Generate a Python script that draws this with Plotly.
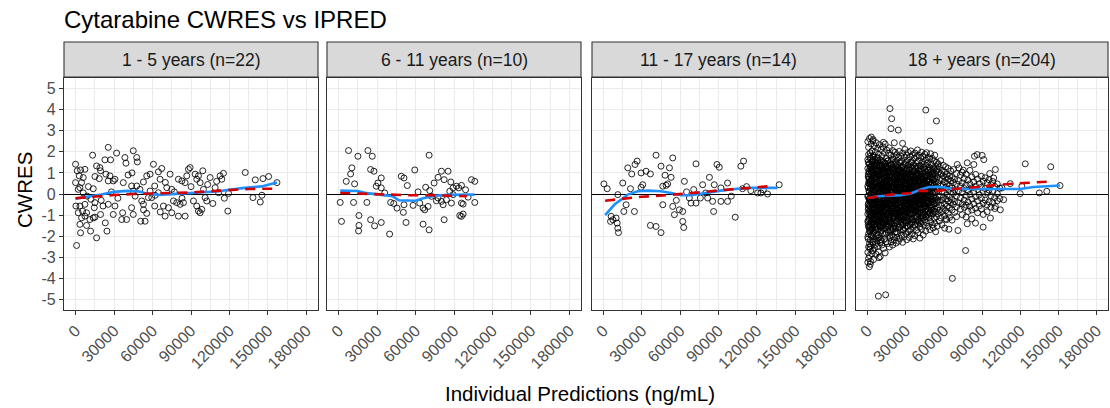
import plotly.graph_objects as go

# ---------------- data ----------------
PANEL_TITLES = ["1 - 5 years (n=22)", "6 - 11 years (n=10)", "11 - 17 years (n=14)", "18 + years (n=204)"]
X_TICKS = [0, 30000, 60000, 90000, 120000, 150000, 180000]
Y_TICKS = [-5, -4, -3, -2, -1, 0, 1, 2, 3, 4, 5]

# 1 - 5 years
p1_ipred = [0, 1300, 3900, 7300, 2900, 6000, 0, 4700, 3400, 2100, 13300, 15100, 18500, 16400, 19000, 19500,
            13800, 22900, 27300, 25500, 32000, 23700, 26800, 25500, 29400, 30700, 38500, 39300, 45000, 47700,
            48200, 300, 3400, 7300, 2100, 5500, 8600, 4700, 7300, 11200, 3400, 8600, 13800, 15100, 3900, 800,
            16400, 11700, 15100, 14600, 19500, 23200, 24500, 21400, 25500, 30700, 29400, 36700, 39800, 36000,
            43700, 45000, 50800, 54200, 45000, 50200, 46400, 51600, 52900, 55500, 52900, 55500, 58100, 60700,
            64600, 65900, 67200, 73700, 71100, 75000, 61700, 68500, 69800, 72400, 76300, 78900, 81500, 84100,
            75000, 80200, 85400, 80200, 82900, 85400, 88000, 89300, 86700, 93200, 94500, 95800, 99200, 97100,
            91900, 94500, 95800, 97100, 98400, 101000, 102300, 99700, 104900, 112700, 114000, 115300, 108800,
            111500, 119300, 118700, 132300, 140100, 146100, 150500, 138300, 144000, 145300, 157000, 61700,
            58100, 64600, 43700, 47700, 37200, 56800, 59400, 62000, 10000, 12000, 20000, 28000, 33000, 41000,
            44000, 53000, 66000, 70000, 77000, 83000, 90000, 103000, 107000, 110000, 116000, 9000, 6000]
p1_cwres = [1.41, 1.10, 1.14, 1.17, 0.86, 0.78, 0.54, 0.54, 0.30, 0.22, 1.84, 0.83, 0.73, 1.33, 1.25, 1.10,
            0.25, 1.62, 1.62, 2.21, 1.94, 0.94, 0.86, 0.62, 0.62, 0.70, 1.73, 1.46, 2.05, 1.73,
            1.52, -0.57, -0.57, -0.49, -0.89, -0.81, -0.89, -1.13, -1.05, -1.21, -1.44, -1.49, -1.13, -1.10,
            -1.84, -2.44, -2.08, -1.76, -0.41, -0.65, -0.97, -1.37, -1.76, -0.57, -0.49, -0.57, -0.97, -0.89,
            -1.21, -1.21, -0.65, -0.97, -1.29, -1.29, 0.14, 0.22, -0.10, -0.33, -0.49, -0.92, 0.57, 0.86, 0.94,
            1.41, 1.05, 0.70, 1.21, 0.94, 0.30, 0.22, -0.57, -0.57, -1.05, -0.65, -0.33, -0.41, -0.49, -0.41,
            -0.89, -1.05, -1.05, 0.70, 0.62, 0.54, 1.17, 1.25, 0.86, 0.94, 0.70, 0.86, 1.10, 0.54,
            -0.33, -0.57, -0.81, -0.89, -0.73, -0.17, -0.33, 0.22, 0.78, 0.86, 0.70, 0.98, 0.30,
            0.06, 0.03, -0.81, 1.02, 0.67, 0.73, 0.83, -0.17, -0.38, -0.06, 0.54, 0.38,
            0.14, 0.06, 0.38, 0.38, 0.54, -0.17, -0.17, -0.06, 0.35, -0.25, -0.30, 0.10, -0.20, 0.90,
            1.00, -0.75, -0.85, 0.55, 0.10, -0.20, 0.35, 0.45, -0.45, 0.60, -0.20, -0.10, 0.05]
p1_loess_x = [0, 8000, 20000, 30000, 40000, 50000, 55000, 65000, 80000, 95000, 110000, 120000, 130000, 145000, 157000]
p1_loess_y = [-0.22, -0.15, -0.02, 0.10, 0.15, 0.12, 0.02, -0.04, 0.02, 0.07, 0.12, 0.20, 0.28, 0.36, 0.55]
p1_median_x = [0, 15000, 30000, 45000, 60000, 75000, 90000, 105000, 120000, 135000, 150000, 157000]
p1_median_y = [-0.20, -0.12, -0.05, 0.00, 0.02, 0.05, 0.07, 0.13, 0.20, 0.24, 0.25, 0.25]

# 6 - 11 years
p2_ipred = [7800, 15100, 22900, 26300, 10400, 9400, 6000, 12500, 25000, 27600, 33300, 30700, 29400, 33300,
            1300, 11700, 22100, 2300, 15900, 15900, 15600, 25000, 28100, 33300, 39800, 40600, 45600, 50500,
            52600, 48900, 51000, 53600, 59400, 70600, 51000, 58100, 63300, 65900, 67200, 69800, 65900, 70600,
            67900, 71100, 74500, 77600, 80200, 82300, 85400, 77600, 80200, 81500, 84100, 82300, 87500, 89300,
            91900, 93700, 95800, 86700, 89300, 88000, 95800, 97100, 94500, 97100, 95800, 103600, 106200,
            106200, 76300, 72400, 36000, 43000, 62000, 99000, 101000]
p2_cwres = [2.06, 1.79, 2.06, 1.79, 1.24, 0.95, 0.60, 0.48, 1.16, 1.08, 0.76, 0.52, 0.37, 0.29,
            -0.40, -0.40, -0.40, -1.30, -1.02, -1.49, -1.75, -1.22, -1.51, -1.35, -1.90, -0.40, -0.67, -0.87,
            -1.35, 0.84, 0.76, 0.40, 1.14, 1.84, -0.51, -0.54, -0.43, -0.67, -0.75, -0.59, -1.43, -1.70,
            0.32, 0.16, 0.52, 0.79, 1.08, 0.68, 1.08, -0.19, -0.35, -0.51, -0.27, -1.22, 0.57, 0.29,
            0.37, 0.29, 0.41, 0.13, -0.03, -0.43, -0.43, -0.48, -1.02, -0.95, -1.06, 0.68, 0.60,
            -0.40, -0.32, -0.11, 0.05, -0.45, 0.10, 0.20, -0.15]
p2_loess_x = [1300, 15000, 22000, 33000, 42000, 47000, 60000, 66000, 75000, 85000, 106000]
p2_loess_y = [0.16, 0.14, 0.04, -0.05, -0.10, -0.30, -0.32, -0.20, -0.08, -0.04, -0.03]
p2_median_x = [1300, 15000, 30000, 40000, 55000, 70000, 85000, 100000]
p2_median_y = [0.05, 0.02, -0.01, -0.04, -0.06, -0.06, -0.09, -0.10]

# 11 - 17 years
p3_ipred = [300, 2900, 11200, 15100, 21100, 19000, 22100, 24700, 26300, 29400, 33300, 36700, 30700, 29400,
            41100, 45000, 51600, 54200, 48200, 52900, 46400, 49000, 50200, 46400, 17700, 15900, 24200, 6000,
            9900, 5500, 10700, 11200, 11700, 7300, 36700, 41100, 45000, 54200, 55500, 59400, 62000, 62000,
            62800, 63300, 67200, 68500, 72400, 70600, 72400, 75800, 77600, 82900, 86700, 88800, 90600, 81500,
            85400, 91900, 97100, 86200, 97100, 91900, 103100, 107500, 109600, 108800, 115300, 120600, 123200,
            128400, 137500, 57000, 65000, 80000, 100000, 112000, 125000]
p3_cwres = [0.48, 0.25, -0.03, 0.52, 0.25, 1.24, 0.95, 1.40, 1.56, 1.00, 1.08, 0.95, 0.44, 0.32,
            1.84, 1.32, 1.24, 1.71, 0.89, 0.79, 0.37, 0.41, 0.48, -0.51, -0.51, -0.83, -0.83, -1.06,
            -1.14, -1.30, -1.38, -1.62, -1.83, -1.22, -1.49, -1.54, -1.83, -0.59, -0.98, -0.75, -0.83, -1.30,
            -1.59, 0.60, -0.19, -0.43, 1.43, 0.21, -0.43, -0.19, 0.44, 0.79, 0.44, 1.40, 1.27, -0.19,
            -0.35, -0.35, -0.35, -0.83, 0.52, 0.29, -1.10, 1.32, 1.56, 0.25, 0.16, 0.05, 0.05,
            0.00, 0.44, -0.30, 0.10, 0.05, -0.10, 0.35, 0.20]
p3_loess_x = [1300, 8600, 19000, 26800, 34600, 45000, 52900, 60700, 68500, 78900, 91900, 104900, 115300, 136200]
p3_loess_y = [-1.00, -0.50, -0.03, 0.13, 0.16, 0.13, 0.05, -0.06, -0.06, 0.05, 0.16, 0.25, 0.29, 0.29]
p3_median_x = [1300, 10000, 20000, 30000, 40000, 50000, 60000, 70000, 80000, 90000, 105000, 118000, 130000]
p3_median_y = [-0.32, -0.26, -0.19, -0.13, -0.10, -0.05, -0.03, 0.05, 0.10, 0.17, 0.25, 0.30, 0.37]

# 18 + years : outer cloud, one column of CWRES values per IPRED position
p4_cloud_ipred = [300, 900, 1600, 2200, 2900, 3500, 4200, 4800, 5500, 6100, 6800, 7400, 8100, 8700, 9400,
                  10000, 10700, 11300, 12000, 12600, 13300, 13900, 14600, 15200, 15900, 16500, 17200, 17800,
                  18500, 19100, 19800, 20400, 21100, 21700, 22400, 23000, 23700, 24300, 25000, 25600, 26300,
                  26900, 27600, 28200, 28900, 29500, 30200, 30800, 31500, 32100, 32800, 33400, 34100, 34700,
                  35400, 36000, 36700, 37300, 38000, 38600, 39300, 39900, 40600, 41200, 41900, 42500, 43200,
                  43800, 44500, 45100, 45800, 46400, 47100, 47700, 48400, 49000, 49700, 50300, 51000, 51600,
                  52300, 52900, 53600, 54200, 54900, 55500, 56500, 57500, 58500, 59500, 60500, 61500, 62500,
                  63500, 64500, 65500, 66500, 67500, 68500, 70000, 71500, 73000, 74500, 76000, 77500, 79000,
                  80500, 82000, 83500, 85000, 86500, 88000, 89500, 91000, 92500, 94000, 95500, 97000, 98500,
                  100000, 102000, 104000]
p4_cloud_cwres = [
    [2.48, 1.63, 1.21, 0.37, -0.12, -0.95, -1.31, -2.04, -2.77, -3.24],
    [2.21, 1.87, 0.82, 0.55, -0.43, -0.68, -1.57, -1.89, -2.51, -3.05],
    [2.63, 1.44, 0.98, 0.11, -0.27, -1.12, -1.73, -2.36, -2.92],
    [1.95, 1.69, 0.64, 0.26, -0.58, -0.84, -1.45, -2.18, -2.61, -3.33],
    [2.37, 1.28, 1.06, -0.04, -0.39, -1.03, -1.96, -2.45],
    [2.04, 1.53, 0.71, 0.42, -0.71, -1.22, -1.64, -2.83],
    [2.52, 1.77, 0.33, -0.16, -0.89, -1.38, -2.27, -2.68],
    [1.83, 1.14, 0.89, 0.07, -0.52, -1.48, -1.81, -3.11],
    [2.29, 1.41, 0.58, -0.31, -0.77, -1.09, -2.12, -2.56],
    [1.99, 1.62, 0.94, 0.19, -0.46, -1.27, -1.69, -2.39],
    [2.43, 1.09, 0.47, -0.08, -0.63, -1.54, -2.01, -2.86],
    [1.71, 1.35, 0.76, 0.28, -0.97, -1.19, -2.22],
    [2.16, 1.58, 0.39, -0.22, -0.81, -1.66, -2.49],
    [1.88, 0.93, 0.62, -0.37, -1.07, -1.42, -1.93, -2.74],
    [2.34, 1.47, 1.11, 0.14, -0.55, -1.28, -2.08],
    [1.61, 1.26, 0.51, -0.12, -0.71, -1.58, -2.31, -2.97],
    [2.11, 0.86, 0.31, -0.44, -0.92, -1.76, -2.17],
    [1.79, 1.38, 0.69, 0.03, -0.64, -1.13, -2.42],
    [2.24, 1.17, 0.45, -0.26, -1.01, -1.49, -1.87],
    [1.52, 0.98, 0.22, -0.49, -0.83, -1.37, -2.58],
    [1.96, 1.31, 0.74, -0.06, -0.72, -1.61, -2.13],
    [2.37, 1.07, 0.36, -0.33, -1.18, -1.91, -2.79],
    [1.68, 1.44, 0.57, 0.09, -0.61, -1.33, -2.26],
    [2.08, 0.84, 0.18, -0.42, -0.96, -1.69],
    [1.57, 1.21, 0.66, -0.19, -0.74, -1.52, -2.35],
    [1.93, 1.02, 0.41, -0.54, -1.09, -1.82],
    [2.19, 1.36, 0.27, -0.08, -0.86, -1.44, -2.51],
    [1.49, 0.91, 0.58, -0.31, -1.23, -1.74, -2.08],
    [1.84, 1.19, 0.13, -0.47, -0.68, -1.56, -2.27],
    [1.62, 0.79, 0.35, -0.24, -0.99, -1.38, -1.95],
    [2.06, 1.28, 0.52, -0.12, -0.81, -1.67, -2.42],
    [1.41, 0.96, 0.07, -0.58, -1.14, -2.03],
    [1.77, 1.16, 0.63, -0.36, -0.71, -1.49, -2.19],
    [1.98, 0.72, 0.24, -0.17, -1.05, -1.81],
    [1.54, 1.33, 0.46, -0.51, -0.92, -1.62, -2.33],
    [1.86, 0.87, 0.16, -0.29, -1.26, -2.06],
    [1.39, 1.08, 0.55, -0.07, -0.77, -1.43, -1.87],
    [1.72, 1.24, 0.33, -0.46, -1.12, -2.24],
    [2.02, 0.94, 0.19, -0.21, -0.88, -1.57],
    [1.46, 0.77, 0.48, -0.39, -1.01, -1.73, -2.11],
    [1.81, 1.13, 0.29, -0.14, -0.67, -1.34],
    [1.58, 0.86, 0.04, -0.53, -1.19, -1.96],
    [1.94, 1.29, 0.61, -0.26, -0.82, -1.48, -2.29],
    [1.36, 0.98, 0.21, -0.41, -1.08, -1.69],
    [1.74, 1.17, 0.44, -0.06, -0.74, -1.28, -2.02],
    [2.11, 0.81, 0.27, -0.33, -0.95, -1.61],
    [1.49, 1.06, 0.53, -0.18, -0.59, -1.37, -1.88],
    [1.83, 0.92, 0.12, -0.47, -1.14, -2.17],
    [1.62, 1.21, 0.39, -0.28, -0.86, -1.52],
    [1.97, 0.74, 0.18, -0.09, -0.69, -1.24, -1.79],
    [1.41, 1.14, 0.57, -0.37, -1.03, -2.06],
    [1.76, 0.89, 0.31, -0.22, -0.78, -1.46],
    [2.04, 1.27, 0.46, -0.11, -0.93, -1.68],
    [1.53, 0.97, 0.08, -0.44, -1.17, -1.91],
    [1.86, 1.18, 0.62, -0.31, -0.71, -1.33],
    [1.37, 0.84, 0.26, -0.16, -0.89, -1.58, -2.13],
    [1.69, 1.09, 0.43, -0.52, -1.06],
    [1.94, 0.76, 0.14, -0.27, -0.81, -1.44, -1.97],
    [1.46, 1.22, 0.56, -0.08, -0.63, -1.29],
    [1.78, 0.93, 0.34, -0.39, -1.11, -1.71],
    [2.09, 1.31, 0.21, -0.19, -0.74, -1.42],
    [1.57, 0.87, 0.49, -0.33, -0.96, -1.84],
    [1.83, 1.12, 0.28, -0.05, -0.68, -1.23],
    [1.34, 0.96, 0.59, -0.46, -0.87, -1.56, -2.09],
    [1.72, 1.19, 0.37, -0.14, -1.04, -1.39],
    [1.98, 0.81, 0.16, -0.35, -0.72, -1.67],
    [1.51, 1.07, 0.44, -0.23, -0.93, -1.31],
    [1.79, 0.72, 0.27, -0.49, -1.12, -1.94],
    [1.42, 1.26, 0.53, -0.03, -0.66, -1.48],
    [1.88, 0.91, 0.33, -0.28, -0.84, -1.22],
    [1.61, 1.03, 0.12, -0.41, -1.07, -1.76],
    [1.96, 1.34, 0.64, -0.17, -0.59, -1.37],
    [1.47, 0.86, 0.39, -0.32, -0.97],
    [1.74, 1.14, 0.22, -0.08, -0.76, -1.53],
    [1.28, 0.94, 0.57, -0.43, -1.13],
    [1.66, 1.21, 0.31, -0.21, -0.88, -1.69],
    [1.91, 0.79, 0.46, -0.12, -0.64, -1.32],
    [1.39, 1.06, 0.18, -0.37, -1.02],
    [1.68, 0.88, 0.52, -0.26, -0.79, -1.47],
    [1.23, 0.97, 0.28, -0.14, -0.93, -1.61],
    [1.57, 1.16, 0.41, -0.48, -1.16],
    [1.84, 0.74, 0.09, -0.31, -0.71, -1.38],
    [1.32, 0.93, 0.59, -0.19, -0.86, -1.79],
    [1.51, 1.11, 0.34, -0.42, -1.08],
    [1.18, 0.81, 0.16, -0.27, -0.63, -1.52],
    [1.43, 1.02, 0.49, -0.36, -0.94],
    [1.27, 0.67, 0.24, -0.11, -0.77, -1.28],
    [1.58, 0.96, 0.37, -0.53, -1.13],
    [1.12, 0.73, 0.13, -0.29, -0.84, -1.46],
    [1.36, 0.86, 0.42, -0.16, -0.68],
    [1.04, 0.58, 0.07, -0.47, -1.03],
    [1.29, 0.79, 0.31, -0.24, -0.79, -1.18],
    [0.93, 0.49, -0.06, -0.58],
    [1.21, 0.71, 0.22, -0.33, -0.91],
    [0.86, 0.39, -0.14, -0.64, -1.11],
    [1.09, 0.62, 0.11, -0.42],
    [0.78, 0.28, -0.27, -0.76, -1.24],
    [1.16, 0.54, 0.03, -0.49],
    [0.69, 0.19, -0.36, -0.87],
    [0.97, 0.47, -0.09, -0.61, -1.07],
    [0.63, 0.14, -0.41],
    [0.89, 0.36, -0.18, -0.72],
    [1.03, 0.53, 0.06, -0.47, -0.98],
    [0.74, 0.26, -0.29, -0.63],
    [0.94, 0.42, -0.07, -0.53, -1.09],
    [0.66, 0.17, -0.38, -0.83],
    [1.12, 0.48, -0.02, -0.57],
    [0.81, 0.29, -0.24, -0.76, -1.18],
    [0.58, 0.09, -0.46],
    [0.93, 0.37, -0.13, -0.68],
    [0.71, 0.21, -0.33, -0.89],
    [0.49, -0.04, -0.56],
    [0.84, 0.32, -0.21, -0.71],
    [0.61, 0.12, -0.43, -0.97],
    [0.77, 0.26, -0.29],
    [0.53, 0.04, -0.51, -0.84],
    [0.68, 0.19, -0.37],
    [0.44, -0.08, -0.62],
    [0.59, 0.11, -0.41],
    [0.36, -0.17, -0.69],
    [0.48, 0.02, -0.32],
    [0.27, -0.22],
]
# 18 + years : the heavily overplotted core of the cloud
p4_core_ipred = [600, 1900, 3200, 4500, 5800, 7100, 8400, 9700, 11000, 12300, 13600, 14900, 16200, 17500,
                 18800, 20100, 21400, 22700, 24000, 25300, 26600, 27900, 29200, 30500, 31800, 33100, 34400,
                 35700, 37000, 38300, 39600, 40900, 42200, 43500, 44800, 46100, 47400, 48700, 50000, 51300,
                 52600]
p4_core_cwres = [
    [1.52, 0.94, 0.81, 0.29, -0.08, -0.51, -0.73, -1.26, -1.45, -2.13],
    [1.78, 1.21, 0.58, 0.47, -0.19, -0.34, -0.97, -1.62, -1.79, -2.52],
    [1.36, 1.12, 0.66, 0.03, -0.28, -0.88, -1.04, -1.37, -2.01],
    [1.64, 0.99, 0.37, 0.18, -0.45, -0.61, -1.19, -1.83, -2.29],
    [1.27, 0.76, 0.52, -0.12, -0.26, -0.92, -1.41, -1.56],
    [1.49, 1.18, 0.84, 0.22, -0.37, -0.69, -0.85, -1.58, -1.94],
    [1.71, 0.91, 0.28, 0.11, -0.54, -1.12, -1.29, -2.07],
    [1.33, 1.07, 0.62, 0.39, -0.16, -0.78, -0.98, -1.51],
    [1.58, 0.73, 0.44, -0.03, -0.41, -0.59, -1.33, -1.72, -2.24],
    [1.19, 0.98, 0.31, 0.07, -0.63, -0.87, -1.09, -1.64],
    [1.46, 0.81, 0.57, 0.19, -0.29, -0.48, -1.22, -1.39],
    [1.24, 0.66, 0.42, -0.14, -0.37, -0.96, -1.49, -1.86],
    [1.57, 1.03, 0.71, 0.26, -0.06, -0.74, -0.91, -1.57],
    [1.11, 0.83, 0.18, -0.21, -0.46, -1.07, -1.28, -1.97],
    [1.38, 0.61, 0.49, 0.04, -0.58, -0.81, -1.42],
    [1.66, 1.09, 0.34, 0.13, -0.33, -0.66, -1.16, -1.63],
    [1.22, 0.79, 0.56, -0.09, -0.27, -0.93, -1.52],
    [1.42, 0.93, 0.24, -0.11, -0.71, -0.89, -1.34, -1.81],
    [1.08, 0.69, 0.46, 0.06, -0.42, -1.03, -1.19],
    [1.51, 1.14, 0.58, 0.19, -0.19, -0.62, -1.27, -1.58],
    [1.27, 0.81, 0.32, -0.03, -0.54, -0.77, -1.09],
    [1.03, 0.64, 0.47, -0.16, -0.35, -0.98, -1.44, -1.69],
    [1.44, 0.86, 0.21, 0.09, -0.48, -0.69, -1.24],
    [1.17, 0.73, 0.54, -0.08, -0.31, -0.87, -1.12, -1.53],
    [1.36, 0.94, 0.29, 0.12, -0.59, -0.78, -1.31],
    [1.12, 0.61, 0.43, -0.04, -0.24, -0.91, -1.18, -1.73],
    [1.48, 0.79, 0.18, -0.13, -0.52, -0.67, -1.39],
    [1.06, 0.87, 0.36, 0.07, -0.36, -0.96, -1.21],
    [1.31, 0.58, 0.47, -0.11, -0.44, -0.74, -1.48],
    [0.99, 0.74, 0.23, 0.02, -0.58, -0.81, -1.09],
    [1.24, 0.91, 0.38, -0.21, -0.33, -0.92, -1.27],
    [1.07, 0.63, 0.49, 0.11, -0.49, -0.69, -1.34],
    [1.34, 0.82, 0.27, -0.07, -0.26, -0.86, -1.12],
    [0.97, 0.71, 0.41, 0.13, -0.41, -0.63, -1.01],
    [1.18, 0.56, 0.33, -0.14, -0.54, -0.97],
    [0.92, 0.84, 0.47, 0.08, -0.29, -0.71, -1.06],
    [1.13, 0.62, 0.36, -0.03, -0.46, -0.83],
    [0.88, 0.73, 0.24, 0.11, -0.37, -0.58, -0.94],
    [1.06, 0.52, 0.39, -0.09, -0.51, -0.76],
    [0.81, 0.66, 0.28, 0.04, -0.34, -0.63],
    [0.97, 0.48, 0.17, -0.18, -0.46, -0.82],
]
# 18 + years : innermost band where the open circles merge into solid black
p4_inner_ipred = [1200, 2600, 3900, 5200, 6500, 7800, 9100, 10400, 11700, 13000, 14300, 15600, 16900, 18200,
                  19500, 20800, 22100, 23400, 24700, 26000, 27300, 28600, 29900, 31200, 32500, 33800, 35100,
                  36400, 37700, 39000, 40300, 41600, 42900, 44200, 45500, 46800]
p4_inner_cwres = [
    [1.41, 1.08, 0.71, 0.49, 0.14, -0.23, -0.57, -0.84, -1.17, -1.52],
    [1.26, 0.92, 0.63, 0.31, -0.04, -0.39, -0.71, -1.06, -1.34, -1.71],
    [1.57, 1.19, 0.87, 0.54, 0.22, -0.14, -0.47, -0.93, -1.24, -1.61],
    [1.33, 0.99, 0.74, 0.39, 0.06, -0.31, -0.66, -0.99, -1.43],
    [1.48, 1.13, 0.82, 0.46, 0.17, -0.19, -0.52, -0.86, -1.21, -1.67],
    [1.21, 0.94, 0.58, 0.27, -0.09, -0.44, -0.76, -1.14, -1.48],
    [1.39, 1.04, 0.69, 0.36, 0.01, -0.28, -0.63, -0.95, -1.31],
    [1.17, 0.86, 0.51, 0.19, -0.16, -0.49, -0.83, -1.18, -1.56],
    [1.32, 0.97, 0.66, 0.32, -0.02, -0.36, -0.69, -1.03, -1.38],
    [1.12, 0.78, 0.44, 0.13, -0.21, -0.55, -0.88, -1.26],
    [1.29, 0.93, 0.61, 0.28, -0.07, -0.41, -0.74, -1.09, -1.44],
    [1.06, 0.73, 0.39, 0.08, -0.26, -0.61, -0.93, -1.29],
    [1.24, 0.89, 0.56, 0.23, -0.11, -0.46, -0.79, -1.13],
    [1.01, 0.68, 0.34, 0.03, -0.31, -0.64, -0.99, -1.33],
    [1.19, 0.84, 0.52, 0.18, -0.16, -0.51, -0.84],
    [0.97, 0.63, 0.31, -0.02, -0.36, -0.69, -1.04, -1.37],
    [1.14, 0.79, 0.47, 0.14, -0.21, -0.54, -0.89],
    [0.93, 0.59, 0.26, -0.07, -0.41, -0.74, -1.08],
    [1.09, 0.76, 0.43, 0.09, -0.24, -0.58, -0.92],
    [0.88, 0.55, 0.22, -0.12, -0.46, -0.79, -1.13],
    [1.04, 0.71, 0.38, 0.05, -0.29, -0.62],
    [0.84, 0.51, 0.17, -0.16, -0.49, -0.83],
    [0.99, 0.67, 0.34, 0.01, -0.33, -0.67, -1.01],
    [0.81, 0.47, 0.13, -0.19, -0.53, -0.86],
    [0.96, 0.62, 0.29, -0.03, -0.37, -0.71],
    [0.77, 0.43, 0.09, -0.24, -0.57, -0.91],
    [0.92, 0.58, 0.26, -0.07, -0.41, -0.74],
    [0.73, 0.39, 0.06, -0.28, -0.61],
    [0.88, 0.54, 0.22, -0.11, -0.44, -0.78],
    [0.69, 0.36, 0.03, -0.31, -0.64],
    [0.84, 0.51, 0.18, -0.14, -0.48],
    [0.66, 0.32, -0.01, -0.34, -0.67],
    [0.81, 0.47, 0.14, -0.18, -0.51],
    [0.62, 0.29, -0.04, -0.37],
    [0.77, 0.44, 0.11, -0.21, -0.54],
    [0.58, 0.25, -0.08, -0.41],
]
# 18 + years : isolated observations around the cloud
p4_extra_ipred = [17700, 45800, 19000, 54200, 18500, 24200, 21100, 27600, 49200, 124000, 144000, 77100, 66700,
                  8600, 14300, 100500, 99200, 96100, 90100, 86200, 91400, 84100, 83600, 78400, 70600, 71900,
                  75300, 105700, 107000, 104400, 100500, 96600, 90900, 84900, 78400, 71100, 64000, 62200,
                  60700, 120000, 135000, 140900, 151300, 121300, 112200, 1500, 3000, 2500, 4500, 9000, 12500]
p4_extra_cwres = [4.05, 3.98, 3.57, 3.46, 3.10, 3.03, 2.43, 2.40, 2.51, 1.43, 1.29, -2.68, -4.00,
                  -4.84, -4.78, 1.16, 0.76, 0.97, 1.83, 1.87, 1.63, 1.79, 1.40, 1.48, 1.40, 1.24,
                  1.13, 0.29, -0.27, -0.75, -0.59, -1.14, -1.57, -1.38, -1.41, -1.73, -1.67, -1.22,
                  -1.62, 0.02, 0.05, 0.13, 0.40, 0.37, 0.49, -3.45, 2.70, -3.20, 2.58, -3.02, 2.45]
p4_loess_x = [300, 8000, 26300, 34100, 41900, 48400, 57500, 68000, 83600, 104400, 120000, 130500, 143500, 151300]
p4_loess_y = [-0.19, -0.11, -0.06, 0.02, 0.21, 0.33, 0.33, 0.24, 0.24, 0.24, 0.24, 0.33, 0.37, 0.40]
p4_median_x = [300, 18500, 35400, 41900, 52300, 56200, 68000, 86200, 101800, 122600, 139600, 143500]
p4_median_y = [-0.19, -0.03, 0.05, 0.16, 0.13, 0.16, 0.24, 0.33, 0.43, 0.52, 0.59, 0.59]

# ---------------- assemble per panel ----------------
p4_ipred, p4_cwres = [], []
for col_x, col_y in ((p4_cloud_ipred, p4_cloud_cwres), (p4_core_ipred, p4_core_cwres),
                     (p4_inner_ipred, p4_inner_cwres)):
    for xv, col in zip(col_x, col_y):
        p4_ipred.extend([xv] * len(col))
        p4_cwres.extend(col)
p4_ipred += p4_extra_ipred
p4_cwres += p4_extra_cwres

panels = [
    (p1_ipred, p1_cwres, p1_loess_x, p1_loess_y, p1_median_x, p1_median_y),
    (p2_ipred, p2_cwres, p2_loess_x, p2_loess_y, p2_median_x, p2_median_y),
    (p3_ipred, p3_cwres, p3_loess_x, p3_loess_y, p3_median_x, p3_median_y),
    (p4_ipred, p4_cwres, p4_loess_x, p4_loess_y, p4_median_x, p4_median_y),
]

# ---------------- figure ----------------
W, H = 1110, 408
FONT = "Liberation Sans, Arial, sans-serif"
px_domains = [(64, 318), (327, 581), (592, 845), (856, 1108)]
plot_top, plot_bottom = 78, 310
strip_top, strip_bottom = 42, 77

fig = go.Figure()
layout = dict(
    width=W, height=H, margin=dict(l=0, r=0, t=0, b=0),
    paper_bgcolor="white", plot_bgcolor="white", showlegend=False,
    font=dict(family=FONT, color="#1A1A1A"),
)
shapes, annotations = [], []

for i, (xs, ys, lx, ly, mx, my) in enumerate(panels):
    n = "" if i == 0 else str(i + 1)
    xa, ya = "x" + n, "y" + n
    fig.add_trace(go.Scatter(
        x=xs, y=ys, mode="markers", xaxis=xa, yaxis=ya,
        marker=dict(symbol="circle-open", size=6, color="black", line=dict(width=0.85, color="black")),
    ))
    fig.add_trace(go.Scatter(
        x=lx, y=ly, mode="lines", xaxis=xa, yaxis=ya,
        line=dict(color="#1E90FF", width=2.6),
    ))
    fig.add_trace(go.Scatter(
        x=mx, y=my, mode="lines", xaxis=xa, yaxis=ya,
        line=dict(color="#D40000", width=2.6, dash="10px,7px"),
    ))

    d0, d1 = px_domains[i]
    layout["xaxis" + n] = dict(
        domain=[d0 / W, d1 / W], anchor=ya, range=[-9000, 189000],
        tickvals=X_TICKS, ticktext=[str(v) for v in X_TICKS], tickangle=-45,
        tickfont=dict(family=FONT, size=16, color="#4D4D4D"),
        ticks="outside", ticklen=4, tickwidth=1, tickcolor="#333333",
        showgrid=True, gridcolor="#EBEBEB", gridwidth=1.2, zeroline=False,
        minor=dict(dtick=15000, tick0=0, showgrid=True, gridcolor="#EBEBEB", gridwidth=0.7, ticks=""),
        showline=True, linecolor="#333333", linewidth=1.1, mirror=True,
    )
    layout["yaxis" + n] = dict(
        domain=[(H - plot_bottom) / H, (H - plot_top) / H], anchor=xa, range=[-5.5, 5.5],
        tickvals=Y_TICKS, ticktext=[str(v) for v in Y_TICKS], showticklabels=(i == 0),
        tickfont=dict(family=FONT, size=16, color="#4D4D4D"),
        ticks="outside" if i == 0 else "", ticklen=4, tickwidth=1, tickcolor="#333333",
        showgrid=True, gridcolor="#EBEBEB", gridwidth=1.2,
        zeroline=True, zerolinecolor="black", zerolinewidth=1.3,
        showline=True, linecolor="#333333", linewidth=1.1, mirror=True,
    )
    # facet strip
    shapes.append(dict(
        type="rect", xref="paper", yref="paper",
        x0=d0 / W, x1=d1 / W, y0=(H - strip_bottom) / H, y1=(H - strip_top) / H,
        fillcolor="#D9D9D9", line=dict(color="#333333", width=1.1), layer="above",
    ))
    annotations.append(dict(
        text=PANEL_TITLES[i], xref="paper", yref="paper",
        x=(d0 + d1) / 2 / W, y=(H - (strip_top + strip_bottom) / 2) / H,
        xanchor="center", yanchor="middle", showarrow=False,
        font=dict(family=FONT, size=17.5, color="#1A1A1A"),
    ))

annotations += [
    dict(text="Cytarabine CWRES vs IPRED", xref="paper", yref="paper", x=62 / W, y=1 - 19 / H,
         xanchor="left", yanchor="middle", showarrow=False,
         font=dict(family=FONT, size=24, color="black")),
    dict(text="CWRES", xref="paper", yref="paper", x=24 / W, y=(H - 190) / H, textangle=-90,
         xanchor="center", yanchor="middle", showarrow=False,
         font=dict(family=FONT, size=20.5, color="black")),
    dict(text="Individual Predictions (ng/mL)", xref="paper", yref="paper", x=580 / W, y=(H - 393) / H,
         xanchor="center", yanchor="middle", showarrow=False,
         font=dict(family=FONT, size=20.5, color="black")),
]
layout["shapes"] = shapes
layout["annotations"] = annotations
fig.update_layout(**layout)

fig.write_html("out.html")
